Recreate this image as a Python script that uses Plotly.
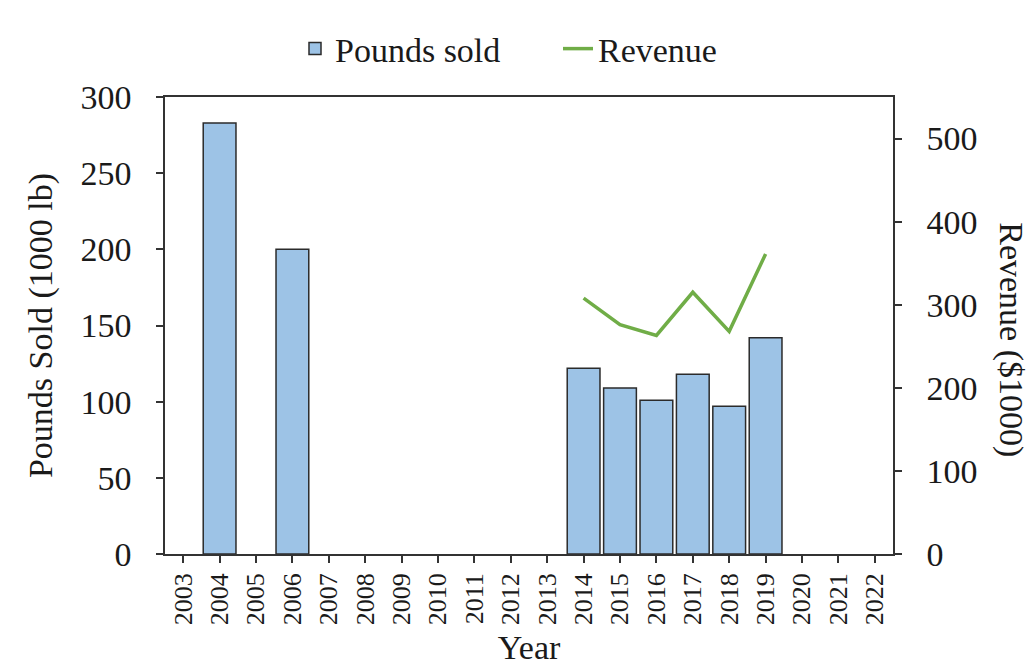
import plotly.graph_objects as go

# Yearly sales data
years = [str(y) for y in range(2003, 2023)]
pounds_sold = [None, 283, None, 200, None, None, None, None, None, None, None,
               122, 109, 101, 118, 97, 142, None, None, None]
revenue = [None, None, None, None, None, None, None, None, None, None, None,
           308, 276, 263, 315, 268, 361, None, None, None]

FONT = "Liberation Serif"
BAR_FILL = "#9DC3E6"
BAR_EDGE = "#2b2b2b"
LINE_GREEN = "#70AD47"

fig = go.Figure()

fig.add_trace(go.Bar(
    x=years, y=pounds_sold, name="Pounds sold",
    marker=dict(color=BAR_FILL, line=dict(color=BAR_EDGE, width=1.5)),
    yaxis="y",
))

fig.add_trace(go.Scatter(
    x=years, y=revenue, name="Revenue", mode="lines",
    line=dict(color=LINE_GREEN, width=3.5),
    connectgaps=False, yaxis="y2",
))

axis_common = dict(
    showline=True, linecolor="#333333", linewidth=1.5,
    ticks="outside", ticklen=7, tickcolor="#333333", tickwidth=1.5,
    showgrid=False, zeroline=False, automargin=False,
)

fig.update_layout(
    width=1034, height=666,
    margin=dict(l=165, r=141, t=97, b=112),
    paper_bgcolor="white", plot_bgcolor="white",
    font=dict(family=FONT, color="#1a1a1a", size=34),
    bargap=0.1,
    showlegend=True,
    legend=dict(
        orientation="h", x=(295 - 165) / 728, xanchor="left",
        y=1.105, yanchor="middle",
        entrywidth=218, entrywidthmode="pixels",
        font=dict(family=FONT, size=34), traceorder="normal",
        bgcolor="rgba(0,0,0,0)",
    ),
    xaxis=dict(
        type="category", categoryorder="array", categoryarray=years,
        tickangle=-90, tickfont=dict(size=26), mirror=True,
        title=dict(text="Year", font=dict(size=34), standoff=14),
        **axis_common,
    ),
    yaxis=dict(
        range=[0, 300], dtick=50, tickfont=dict(size=34),
        ticklabelstandoff=18,
        title=dict(text="Pounds Sold (1000 lb)", font=dict(size=34), standoff=18),
        **axis_common,
    ),
    yaxis2=dict(
        overlaying="y", side="right", range=[0, 550], dtick=100,
        tickfont=dict(size=34), ticklabelstandoff=18,
        **axis_common,
    ),
    annotations=[dict(
        text="Revenue ($1000)", textangle=90, showarrow=False,
        xref="paper", yref="paper", x=1.0 + (1011 - 893) / 728, y=0.47,
        xanchor="center", yanchor="middle", font=dict(family=FONT, size=34),
    )],
)

fig.write_html("out.html")
